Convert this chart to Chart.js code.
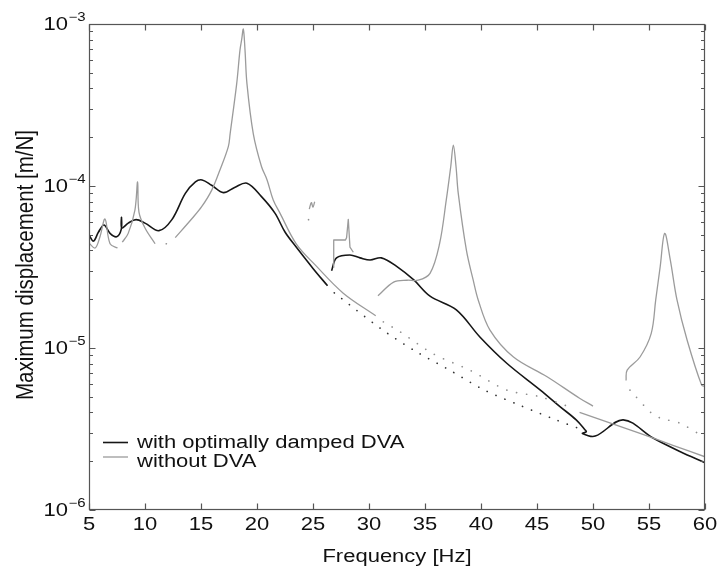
<!DOCTYPE html>
<html>
<head>
<meta charset="utf-8">
<title>Maximum displacement vs frequency</title>
<script src="https://cdn.jsdelivr.net/npm/chart.js@4.4.1/dist/chart.umd.min.js"></script>
<style>
    html, body { margin: 0; padding: 0; background: #ffffff; overflow: hidden; }
    canvas { display: block; }
</style>
</head>
<body>
<canvas id="dispchart" width="720" height="572"></canvas>
<script>
"use strict";

/* with optimally damped DVA (null = break in the curve) */
var dvaFreq = [5.0, 5.4, 5.85, 6.34, 6.88, 7.47, 7.88, 7.9, 7.93, 8.5, 9.2, 10.0, 11.25, 12.4, 13.6, 14.5, 15.1, 15.95, 17.0, 18.0, 19.1, 20.4, 21.6, 22.5, 23.5, 25.0, 26.3,
    26.5, 26.66, 27.1, 28.3, 29.2, 30.1, 31.1, 32.5, 34.0, 35.45, 37.8, 39.9, 42.3, 45.3, 47.05, 48.5, 49.3, 49.4, 49.06, 50.2, 52.7, 55.4, 57.8, 60.0];
var dvaDisp = [4.99e-5, 4.57e-5, 5.2e-5, 5.74e-5, 5.1e-5, 4.86e-5, 5.4e-5, 6.4e-5, 5.5e-5, 5.9e-5, 6.2e-5, 5.9e-5, 5.3e-5, 6.2e-5, 9.0e-5, 1.06e-4, 1.09e-4, 1.01e-4, 9.1e-5, 9.8e-5, 1.04e-4, 8.6e-5, 6.8e-5, 5.2e-5, 4.2e-5, 3.1e-5, 2.42e-5,
    null, 3.0e-5, 3.6e-5, 3.75e-5, 3.6e-5, 3.49e-5, 3.6e-5, 3.18e-5, 2.63e-5, 2.09e-5, 1.72e-5, 1.17e-5, 8.05e-6, 5.5e-6, 4.35e-6, 3.6e-6, 3.12e-6, 3.04e-6, 2.97e-6, 2.86e-6, 3.6e-6, 2.77e-6, 2.29e-6, 1.96e-6];

/* without DVA, smooth branches */
var bareFreq = [5.0, 5.55, 5.98, 6.43, 6.88, 7.55,
    7.6, 7.97, 8.5, 9.1, 9.34, 9.46, 10.0, 10.9,
    11.0, 12.7, 14.2, 15.06, 15.95, 16.7, 17.44, 17.6, 18.19, 18.48, 18.63, 18.78, 18.93, 19.1, 19.67, 20.4, 20.9, 21.45, 22.05, 23.5, 25.3, 27.7, 30.6,
    30.7, 24.67, 24.85, 25.0, 25.15,
    25.2, 30.8, 32.2, 33.4, 34.4, 35.45, 36.3, 36.9, 37.3, 37.53, 37.77, 37.97, 38.7, 39.3, 39.75, 40.8, 42.9, 45.9, 48.8, 50.0,
    50.1, 48.8, 54.2, 57.2, 60.0,
    60.1, 52.95, 53.05, 54.2, 55.2, 55.6, 56.0, 56.4, 56.9, 57.5, 58.4, 59.7, 60.0];
var bareDisp = [4.45e-5, 4.14e-5, 4.86e-5, 6.25e-5, 4.4e-5, 4.14e-5,
    null, 4.5e-5, 5.1e-5, 7.1e-5, 1.06e-4, 6.9e-5, 5.5e-5, 4.4e-5,
    null, 4.8e-5, 6.3e-5, 7.45e-5, 9.4e-5, 1.26e-4, 1.75e-4, 2.1e-4, 4.3e-4, 6.9e-4, 8.0e-4, 9.3e-4, 6.9e-4, 4.3e-4, 2.1e-4, 1.32e-4, 1.09e-4, 8.2e-5, 6.8e-5, 4.4e-5, 3.2e-5, 2.18e-5, 1.58e-5,
    null, 7.2e-5, 7.9e-5, 7.4e-5, 8.0e-5,
    null, 2.1e-5, 2.55e-5, 2.62e-5, 2.62e-5, 2.89e-5, 4.4e-5, 8.2e-5, 1.32e-4, 1.79e-4, 1.32e-4, 9.0e-5, 4.0e-5, 2.63e-5, 1.98e-5, 1.29e-5, 8.8e-6, 6.65e-6, 4.9e-6, 4.38e-6,
    null, 4.0e-6, 2.97e-6, 2.5e-6, 2.13e-6,
    null, 6.3e-6, 7.3e-6, 8.8e-6, 1.23e-5, 1.98e-5, 3.18e-5, 5.1e-5, 3.5e-5, 1.98e-5, 1.12e-5, 5.9e-6, 5.8e-6];

/* without DVA, angular piece near 27-28.6 Hz */
var bareBoxFreq = [26.8, 26.85, 27.9, 28.0, 28.15, 28.3, 28.6];
var bareBoxDisp = [3.15e-5, 4.64e-5, 4.64e-5, 4.8e-5, 6.23e-5, 4.2e-5, 3.9e-5];

/* loose dotted points of both branches */
var dvaDotFreq = [26.9, 31.1, 34.1, 37.2, 40.3, 43.4, 46.7, 48.9];
var dvaDotDisp = [2.19e-5, 1.31e-5, 9.6e-6, 7.3e-6, 5.5e-6, 4.45e-6, 3.6e-6, 3.16e-6];
var bareDotFreq = [11.9, 12.05, 12.1, 24.6, 25.0, 25.1, 31.28, 32.77, 35.74, 39.0, 42.3, 45.27, 48.24, 48.3, 53.3, 55.24, 56.1, 57.8, 59.4, 60.0];
var bareDotDisp = [4.4e-5, 4.4e-5, null, 6.2e-5, 5.6e-5, null, 1.45e-5, 1.26e-5, 9.2e-6, 7.3e-6, 5.5e-6, 5.0e-6, 4.25e-6, null, 5.5e-6, 3.95e-6, 3.68e-6, 3.43e-6, 2.97e-6, 2.9e-6];

/* axes */
var freqTicks = [5, 10, 15, 20, 25, 30, 35, 40, 45, 50, 55, 60];
var decadeTicks = [1e-3, 1e-4, 1e-5, 1e-6];
var decadeExp = ['\u22123', '\u22124', '\u22125', '\u22126'];
var legendLabels = ['with optimally damped DVA', 'without DVA'];

var blackColor = '#161616';
var greyColor = '#9b9b9b';
var fontFamily = '"Liberation Sans", Arial, Helvetica, sans-serif';
var squash = 0.8;

function toPoints(xs, ys) {
    return xs.map(function (x, i) {
        return { x: x, y: ys[i] };
    });
}

/* text squeezed vertically like the source figure */
function squashedText(ctx, text, x, y, size, align) {
    ctx.save();
    ctx.translate(x, y);
    ctx.scale(1, squash);
    ctx.font = size + 'px ' + fontFamily;
    ctx.textAlign = align;
    ctx.textBaseline = 'alphabetic';
    ctx.fillStyle = '#111111';
    ctx.fillText(text, 0, 0);
    ctx.restore();
}

/* matlab style box, inward ticks, labels and legend */
var matlabAxes = {
    id: 'matlabAxes',
    afterDraw: function (chart) {
        var ctx = chart.ctx;
        var area = chart.chartArea;
        var xs = chart.scales.x;
        var ys = chart.scales.y;
        var left = Math.round(area.left) + 0.5;
        var right = Math.round(area.right) - 0.5;
        var top = Math.round(area.top) + 0.5;
        var bottom = Math.round(area.bottom) - 0.5;

        ctx.save();
        ctx.strokeStyle = '#555555';
        ctx.lineWidth = 1.2;
        ctx.strokeRect(left, top, right - left, bottom - top);

        ctx.beginPath();
        freqTicks.forEach(function (f) {
            var px = Math.round(xs.getPixelForValue(f)) + 0.5;
            ctx.moveTo(px, bottom);
            ctx.lineTo(px, bottom - 6);
            ctx.moveTo(px, top);
            ctx.lineTo(px, top + 6);
        });
        decadeTicks.forEach(function (d, i) {
            var py = Math.round(ys.getPixelForValue(d)) + 0.5;
            ctx.moveTo(left, py);
            ctx.lineTo(left + 6, py);
            ctx.moveTo(right, py);
            ctx.lineTo(right - 6, py);
            if (i > 0) {
                for (var m = 2; m <= 9; m++) {
                    var pm = Math.round(ys.getPixelForValue(d * m)) + 0.5;
                    ctx.moveTo(left, pm);
                    ctx.lineTo(left + 3.5, pm);
                    ctx.moveTo(right, pm);
                    ctx.lineTo(right - 3.5, pm);
                }
            }
        });
        ctx.stroke();

        freqTicks.forEach(function (f) {
            squashedText(ctx, String(f), xs.getPixelForValue(f), 530, 22, 'center');
        });
        decadeTicks.forEach(function (d, i) {
            var py = ys.getPixelForValue(d);
            squashedText(ctx, '10', 68, py + 6, 22, 'right');
            squashedText(ctx, decadeExp[i], 68.5, py - 3, 15, 'left');
        });

        squashedText(ctx, 'Frequency [Hz]', (area.left + area.right) / 2, 562, 22, 'center');

        ctx.save();
        ctx.translate(33, 265);
        ctx.rotate(-Math.PI / 2);
        ctx.scale(1, 1.16);
        ctx.font = '20.5px ' + fontFamily;
        ctx.textAlign = 'center';
        ctx.textBaseline = 'alphabetic';
        ctx.fillStyle = '#111111';
        ctx.fillText('Maximum displacement [m/N]', 0, 0);
        ctx.restore();

        /* legend */
        var rows = [
            { y: 442.5, base: 447.5, color: blackColor, width: 1.6 },
            { y: 457, base: 466.5, color: greyColor, width: 1.3 }
        ];
        rows.forEach(function (r, i) {
            ctx.beginPath();
            ctx.strokeStyle = r.color;
            ctx.lineWidth = r.width;
            ctx.moveTo(103, r.y);
            ctx.lineTo(128, r.y);
            ctx.stroke();
            squashedText(ctx, legendLabels[i], 137, r.base, 22, 'left');
        });
        ctx.restore();
    }
};

document.addEventListener("DOMContentLoaded", function () {

    var dispchart = document.getElementById('dispchart').getContext('2d');
    var lineStyle = { pointRadius: 0, borderJoinStyle: 'round', fill: false };

    new Chart(dispchart, {
        type: 'line',
        data: {
            datasets: [
                Object.assign({
                    label: 'without DVA dots',
                    data: toPoints(bareDotFreq, bareDotDisp),
                    borderColor: '#8f8f8f',
                    borderWidth: 1.7,
                    borderCapStyle: 'round',
                    borderDash: [0.1, 10],
                    tension: 0.3
                }, lineStyle),
                Object.assign({
                    label: 'with DVA dots',
                    data: toPoints(dvaDotFreq, dvaDotDisp),
                    borderColor: '#333333',
                    borderWidth: 1.7,
                    borderCapStyle: 'round',
                    borderDash: [0.1, 9.5],
                    tension: 0.3
                }, lineStyle),
                Object.assign({
                    label: legendLabels[1],
                    data: toPoints(bareFreq, bareDisp),
                    borderColor: greyColor,
                    borderWidth: 1.3,
                    tension: 0.35
                }, lineStyle),
                Object.assign({
                    label: 'without DVA box',
                    data: toPoints(bareBoxFreq, bareBoxDisp),
                    borderColor: greyColor,
                    borderWidth: 1.3,
                    tension: 0
                }, lineStyle),
                Object.assign({
                    label: legendLabels[0],
                    data: toPoints(dvaFreq, dvaDisp),
                    borderColor: blackColor,
                    borderWidth: 1.6,
                    tension: 0.35
                }, lineStyle)
            ]
        },
        options: {
            responsive: false,
            animation: false,
            devicePixelRatio: 1,
            layout: {
                padding: { left: 89, right: 15, top: 24, bottom: 62 }
            },
            plugins: {
                legend: { display: false },
                tooltip: { enabled: false }
            },
            scales: {
                x: { type: 'linear', min: 5, max: 60, display: false },
                y: { type: 'logarithmic', min: 1e-6, max: 1e-3, display: false }
            }
        },
        plugins: [matlabAxes]
    });

})
</script>
</body>
</html>
